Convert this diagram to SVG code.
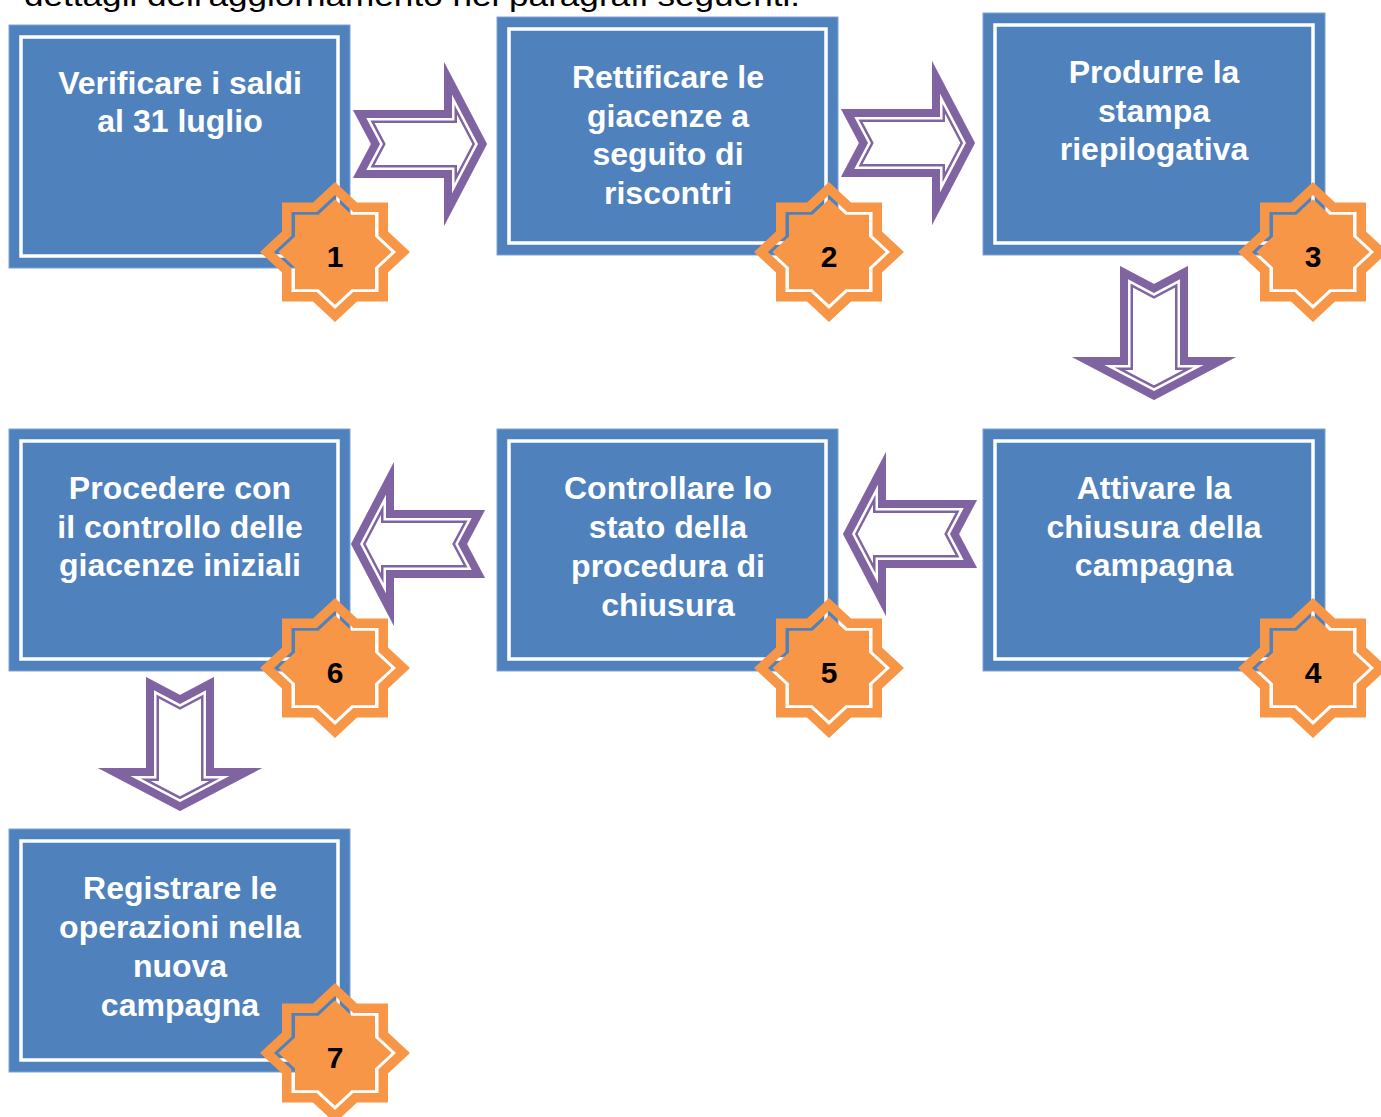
<svg xmlns="http://www.w3.org/2000/svg" xmlns:xlink="http://www.w3.org/1999/xlink" width="1381" height="1117" viewBox="0 0 1381 1117">
<style>
.box{fill:#4F81BD;stroke:#7FA3D2;stroke-width:1}
.line{fill:none;stroke:#FFFFFF;stroke-width:3.5}
.lbl{font-family:"Liberation Sans",Arial,sans-serif;font-weight:bold;font-size:32px;fill:#FFFFFF;text-anchor:middle}
.num{font-family:"Liberation Sans",Arial,sans-serif;font-weight:bold;font-size:30px;fill:#000000;text-anchor:middle}
.ring{fill:none;stroke:#F79646;stroke-width:19;stroke-miterlimit:10}
.core{fill:#F79646}
.a0{fill:#FFFFFF}
.a1{fill:none;stroke:#8064A2;stroke-width:26;stroke-miterlimit:10}
.a2{fill:none;stroke:#FFFFFF;stroke-width:21;stroke-miterlimit:10}
.a3{fill:none;stroke:#8064A2;stroke-width:16;stroke-miterlimit:10}
.top{font-family:"Liberation Sans",Arial,sans-serif;font-size:30px;fill:#000000}
</style>
<defs>
<polygon id="star" points="75,0 53,20.5 53,49.5 22,49.5 0,70 -22,49.5 -53,49.5 -53,20.5 -75,0 -53,-20.5 -53,-49.5 -22,-49.5 0,-70 22,-49.5 53,-49.5 53,-20.5"/>
<clipPath id="starClip"><use xlink:href="#star"/></clipPath>
<g id="badge">
<g clip-path="url(#starClip)"><use xlink:href="#star" class="ring"/></g>
<use xlink:href="#star" class="core" transform="scale(0.755)"/>
</g>
<polygon id="arr" points="0,-34 91,-34 91,-82 134,0 91,82 91,34 0,34 18,0"/>
<clipPath id="arrClip"><use xlink:href="#arr"/></clipPath>
<g id="arrow">
<use xlink:href="#arr" class="a0"/>
<g clip-path="url(#arrClip)">
<use xlink:href="#arr" class="a1"/>
<use xlink:href="#arr" class="a2"/>
<use xlink:href="#arr" class="a3"/>
</g>
</g>
</defs>
<rect width="1381" height="1117" fill="#FFFFFF"/>
<text class="top" x="24" y="6" textLength="776" lengthAdjust="spacingAndGlyphs">dettagli dell'aggiornamento nei paragrafi seguenti.</text>

<g id="connectors">
<use id="c1-2" xlink:href="#arrow" transform="translate(353,144)"/>
<use id="c2-3" xlink:href="#arrow" transform="translate(841,143)"/>
<use id="c3-4" xlink:href="#arrow" transform="translate(1154,266) rotate(90)"/>
<use id="c4-5" xlink:href="#arrow" transform="translate(977,534) rotate(180)"/>
<use id="c5-6" xlink:href="#arrow" transform="translate(485,544) rotate(180)"/>
<use id="c6-7" xlink:href="#arrow" transform="translate(180,677) rotate(90)"/>
</g>

<g id="node1">
<rect class="box" x="9" y="25" width="341" height="243"/>
<rect class="line" x="21" y="37" width="317" height="219"/>
<text class="lbl" x="180" y="94">Verificare i saldi</text>
<text class="lbl" x="180" y="132">al 31 luglio</text>
<use xlink:href="#badge" x="335" y="252"/>
<text class="num" x="335" y="267">1</text>
</g>

<g id="node2">
<rect class="box" x="497" y="17" width="341" height="238"/>
<rect class="line" x="509" y="29" width="317" height="214"/>
<text class="lbl" x="668" y="88">Rettificare le</text>
<text class="lbl" x="668" y="126.5">giacenze a</text>
<text class="lbl" x="668" y="165">seguito di</text>
<text class="lbl" x="668" y="203.5">riscontri</text>
<use xlink:href="#badge" x="829" y="252"/>
<text class="num" x="829" y="267">2</text>
</g>

<g id="node3">
<rect class="box" x="983" y="13" width="342" height="242"/>
<rect class="line" x="995" y="25" width="318" height="218"/>
<text class="lbl" x="1154" y="83">Produrre la</text>
<text class="lbl" x="1154" y="121.5">stampa</text>
<text class="lbl" x="1154" y="160">riepilogativa</text>
<use xlink:href="#badge" x="1313" y="252"/>
<text class="num" x="1313" y="267">3</text>
</g>

<g id="node4">
<rect class="box" x="983" y="429" width="342" height="242"/>
<rect class="line" x="995" y="441" width="318" height="218"/>
<text class="lbl" x="1154" y="499">Attivare la</text>
<text class="lbl" x="1154" y="538">chiusura della</text>
<text class="lbl" x="1154" y="576">campagna</text>
<use xlink:href="#badge" x="1313" y="668"/>
<text class="num" x="1313" y="683">4</text>
</g>

<g id="node5">
<rect class="box" x="497" y="429" width="341" height="242"/>
<rect class="line" x="509" y="441" width="317" height="218"/>
<text class="lbl" x="668" y="499">Controllare lo</text>
<text class="lbl" x="668" y="538">stato della</text>
<text class="lbl" x="668" y="577">procedura di</text>
<text class="lbl" x="668" y="615.5">chiusura</text>
<use xlink:href="#badge" x="829" y="668"/>
<text class="num" x="829" y="683">5</text>
</g>

<g id="node6">
<rect class="box" x="9" y="429" width="341" height="242"/>
<rect class="line" x="21" y="441" width="317" height="218"/>
<text class="lbl" x="180" y="499">Procedere con</text>
<text class="lbl" x="180" y="538">il controllo delle</text>
<text class="lbl" x="180" y="576">giacenze iniziali</text>
<use xlink:href="#badge" x="335" y="668"/>
<text class="num" x="335" y="683">6</text>
</g>

<g id="node7">
<rect class="box" x="9" y="829" width="341" height="243"/>
<rect class="line" x="21" y="841" width="317" height="219"/>
<text class="lbl" x="180" y="899">Registrare le</text>
<text class="lbl" x="180" y="938">operazioni nella</text>
<text class="lbl" x="180" y="977">nuova</text>
<text class="lbl" x="180" y="1015.5">campagna</text>
<use xlink:href="#badge" x="335" y="1053"/>
<text class="num" x="335" y="1068">7</text>
</g>
</svg>
